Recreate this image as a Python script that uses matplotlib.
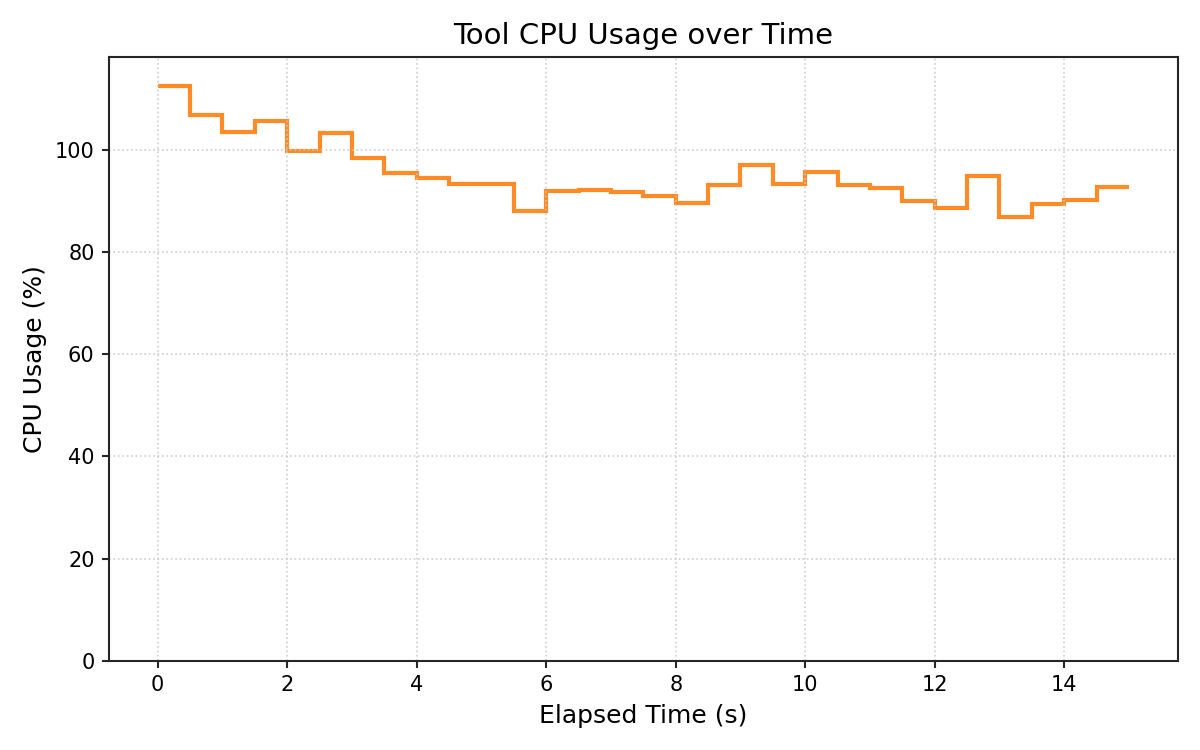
import matplotlib
matplotlib.use("Agg")
import matplotlib.pyplot as plt

# Sample times (s): bin edges of each step
time_edges = [0.0, 0.5, 1.0, 1.5, 2.0, 2.5, 3.0, 3.5, 4.0, 4.5, 5.0,
              5.5, 6.0, 6.5, 7.0, 7.5, 8.0, 8.5, 9.0, 9.5, 10.0,
              10.5, 11.0, 11.5, 12.0, 12.5, 13.0, 13.5, 14.0, 14.5, 15.0]

# CPU usage (%) held over each interval
cpu_usage = [112.6, 107.0, 103.6, 105.7, 99.9, 103.4, 98.5, 95.5, 94.6, 93.5,
             93.5, 88.2, 92.0, 92.2, 91.8, 91.0, 89.7, 93.2, 97.2, 93.5,
             95.7, 93.2, 92.6, 90.0, 88.7, 95.0, 86.9, 89.5, 90.2, 92.9]

title = "Tool CPU Usage over Time"
xlabel = "Elapsed Time (s)"
ylabel = "CPU Usage (%)"

fig, ax = plt.subplots(figsize=(8, 5), dpi=150)
ax.stairs(cpu_usage, time_edges, baseline=None, color="tab:orange",
          alpha=0.9, linewidth=2)
ax.set_xlim(-0.75, 15.75)
ax.set_ylim(0, 118.3)
ax.set_title(title, fontsize=14)
ax.set_xlabel(xlabel, fontsize=12)
ax.set_ylabel(ylabel, fontsize=12)
ax.grid(True, linestyle=":", color="#c8c8c8", alpha=0.9)
for sp in ax.spines.values():
    sp.set_color("#262626")
    sp.set_linewidth(1.0)
ax.tick_params(color="#262626", width=1.0)
fig.tight_layout()
fig.savefig("out.png")
